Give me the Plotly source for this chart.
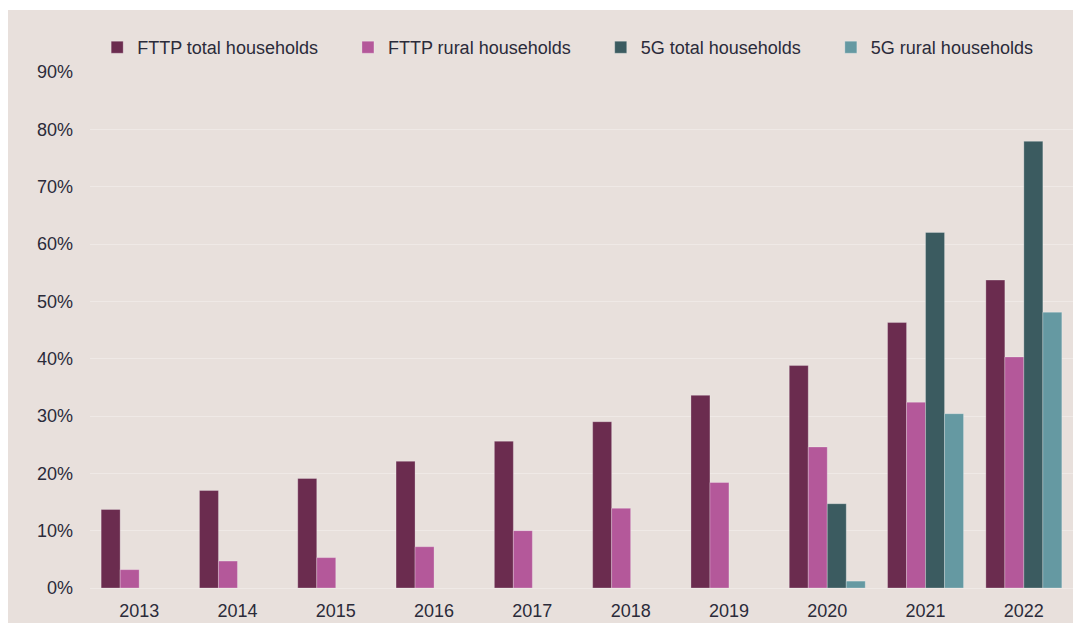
import plotly.graph_objects as go

years = ["2013", "2014", "2015", "2016", "2017", "2018", "2019", "2020", "2021", "2022"]
fttp_total = [13.7, 17.0, 19.1, 22.1, 25.6, 29.0, 33.6, 38.8, 46.3, 53.7]
fttp_rural = [3.2, 4.7, 5.3, 7.2, 10.0, 13.9, 18.4, 24.6, 32.4, 40.3]
fiveg_total = [None, None, None, None, None, None, None, 14.7, 62.0, 77.9]
fiveg_rural = [None, None, None, None, None, None, None, 1.2, 30.4, 48.1]

names = ["FTTP total households", "FTTP rural households",
         "5G total households", "5G rural households"]
colors = ["#6b2c4f", "#b4589a", "#3b5b60", "#6599a2"]
values = [fttp_total, fttp_rural, fiveg_total, fiveg_rural]

BG = "#e8e0dc"
TXT = "#2b2b3a"
FONT = "Liberation Sans, Arial, sans-serif"
PAD = "\u00a0" * 5

fig = go.Figure()
for name, vals, col in zip(names, values, colors):
    fig.add_trace(go.Bar(
        x=years, y=vals, name=name + PAD,
        marker=dict(color=col, line=dict(color="rgba(255,255,255,0.25)", width=1)),
    ))

W, H = 1073, 615
ml, mr, mt, mb = 82, 8, 64, 35
pw = W - ml - mr
ph = H - mt - mb

# thin white strip along the very top of the figure (page margin of the original)
fig.add_shape(
    type="rect", xref="paper", yref="paper", layer="below",
    x0=-ml / pw - 0.01, x1=(W - ml) / pw + 0.01,
    y0=1 + (mt - 2) / ph, y1=1 + mt / ph + 0.01,
    fillcolor="white", line=dict(width=0),
)

fig.update_layout(
    width=W, height=H,
    margin=dict(l=ml, r=mr, t=mt, b=mb),
    paper_bgcolor=BG,
    plot_bgcolor="rgba(0,0,0,0)",
    barmode="group",
    bargap=0.227,
    bargroupgap=0,
    font=dict(family=FONT, size=18, color=TXT),
    showlegend=True,
    legend=dict(
        orientation="h", x=0.0073, xanchor="left", y=1.0116, yanchor="bottom",
        font=dict(family=FONT, size=18, color=TXT),
        itemwidth=30, traceorder="normal",
        bgcolor="rgba(0,0,0,0)",
    ),
    xaxis=dict(
        type="category", showgrid=False, showline=False, ticks="",
        tickfont=dict(size=18, color=TXT), ticklabelstandoff=10,
        automargin=False,
    ),
    yaxis=dict(
        range=[0, 90], dtick=10, ticksuffix="%",
        showgrid=True, gridcolor="#efe9e6", gridwidth=1,
        zeroline=True, zerolinecolor="#efe9e6", zerolinewidth=1,
        showline=False, ticks="", ticklen=0,
        tickfont=dict(size=18, color=TXT), ticklabelstandoff=16,
        automargin=False,
    ),
)

fig.write_html("out.html")
